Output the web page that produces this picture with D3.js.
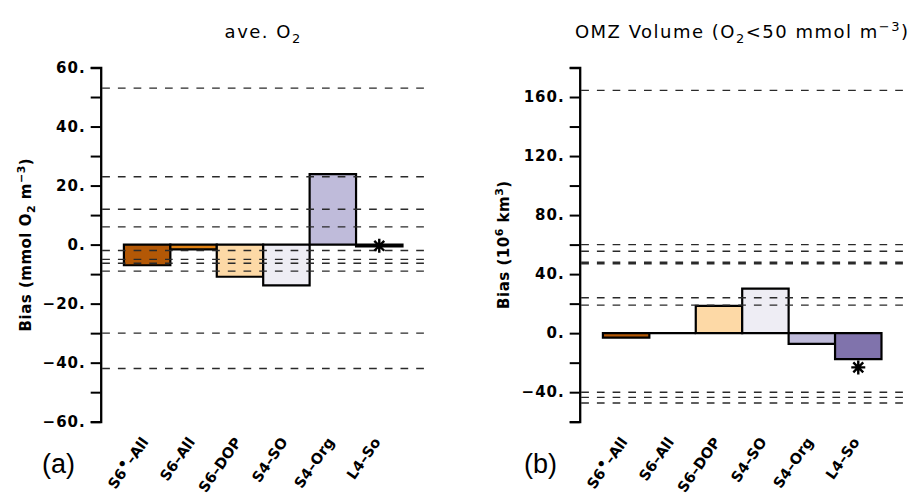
<!DOCTYPE html>
<html>
<head>
<meta charset="utf-8">
<script src="https://cdn.jsdelivr.net/npm/d3@7"></script>
<style>
  html, body { margin: 0; padding: 0; background: #fff; }
  svg { display: block; }
</style>
</head>
<body>
<div id="chart"></div>
<script>
// ---------- data ----------
const categories = ["S6\u2022\u2013All", "S6\u2013All", "S6\u2013DOP", "S4\u2013SO", "S4\u2013Org", "L4\u2013So"];
const barColors = ["#b35806", "#e08214", "#fdd9a6", "#eeedf4", "#bfbbda", "#8073ac"];

// panel (a): ave. O2 bias (mmol O2 m-3)
const o2Bias = [-7.0, -1.6, -10.9, -13.8, 23.9, -0.6];
const o2Star = [null, null, null, null, null, -0.4];
const o2RefLines = [53, 23, 12, 6, -2, -5, -6.3, -9, -30, -42];
const o2Ticks = [-60, -50, -40, -30, -20, -10, 0, 10, 20, 30, 40, 50, 60];
const o2TickLabels = [-60, -40, -20, 0, 20, 40, 60];

// panel (b): OMZ volume bias (10^6 km3)
const omzBias = [-3.0, 0.0, 18.5, 30.2, -7.2, -17.6];
const omzStar = [null, null, null, null, null, -23.2];
const omzRefLines = [164.5, 60, 55.5, 48, 47, 24, 19, -40, -43.5, -47.3];
const omzTicks = [-60, -40, -20, 0, 20, 40, 60, 80, 100, 120, 140, 160, 180];
const omzTickLabels = [-40, 0, 40, 80, 120, 160];

// ---------- drawing ----------
const W = 921, H = 498;
const svg = d3.select("#chart").append("svg").attr("width", W).attr("height", H);
const FONT = "DejaVu Sans, sans-serif";

function panel(opt) {
  const g = svg.append("g");
  const x = d3.scaleLinear().domain([0, categories.length + 1]).range([opt.x0, opt.x0 + 325]);
  const y = d3.scaleLinear().domain(opt.domain).range([421.7, 67.5]);

  // bars (paths so that zero-height bars still draw their outline)
  g.selectAll("path.bar").data(opt.values).enter().append("path")
    .attr("class", "bar")
    .attr("d", (d, i) => {
      const x0 = x(i + 0.5), w = x(1) - x(0);
      const yTop = y(Math.max(0, d)), h = Math.abs(y(d) - y(0));
      return `M${x0},${yTop}h${w}v${h}h${-w}Z`;
    })
    .attr("fill", (d, i) => barColors[i])
    .attr("stroke", "#000")
    .attr("stroke-width", 2.2)
    .attr("stroke-linejoin", "miter");

  // dashed reference lines
  g.selectAll("line.ref").data(opt.refs).enter().append("line")
    .attr("class", "ref")
    .attr("x1", x(0) + 1.5).attr("x2", x(categories.length + 1))
    .attr("y1", d => y(d)).attr("y2", d => y(d))
    .attr("stroke", "#2a2a2a")
    .attr("stroke-width", 1.4)
    .attr("stroke-dasharray", "7.7,8");

  // asterisks
  const r = 7;
  const stars = opt.stars.map((v, i) => ({ v, i })).filter(d => d.v !== null);
  g.selectAll("path.star").data(stars).enter().append("path")
    .attr("class", "star")
    .attr("transform", d => `translate(${x(d.i + 1)},${y(d.v)})`)
    .attr("d", () => {
      const a = r * Math.SQRT1_2;
      return `M0,${-r}V${r}M${-r},0H${r}M${-a},${-a}L${a},${a}M${-a},${a}L${a},${-a}`;
    })
    .attr("stroke", "#000").attr("stroke-width", 2.4).attr("fill", "none");

  // y axis
  const axis = d3.axisLeft(y)
    .tickValues(opt.ticks)
    .tickSize(10).tickSizeOuter(10).tickPadding(5)
    .tickFormat(d => opt.labels.includes(d) ? (d < 0 ? "\u2212" + Math.abs(d) : d) + "." : "");
  const ag = g.append("g").attr("transform", `translate(${x(0)},0)`).call(axis);
  ag.select(".domain").attr("stroke", "#000").attr("stroke-width", 2.3);
  ag.selectAll(".tick line").attr("stroke", "#000").attr("stroke-width", 2);
  ag.selectAll(".tick text").attr("font-size", 15).attr("fill", "#000")
    .attr("letter-spacing", "1px").attr("font-family", FONT).attr("font-weight", "bold");

  // y axis title
  const yt = g.append("text")
    .attr("transform", `translate(${opt.ytx},${244.6}) rotate(-90)`)
    .attr("text-anchor", "middle")
    .attr("font-family", FONT).attr("font-size", 15).attr("font-weight", "bold")
    .attr("letter-spacing", "0.5px");
  opt.ytitle(yt);

  // title
  const t = g.append("text")
    .attr("x", x(0) + 162.5).attr("y", 38)
    .attr("text-anchor", "middle")
    .attr("font-family", FONT).attr("font-size", 18)
    .attr("letter-spacing", "1.5px");
  opt.title(t);

  // category labels
  g.selectAll("text.cat").data(categories).enter().append("text")
    .attr("class", "cat")
    .attr("transform", (d, i) => `translate(${x(i + 1) + 2},${442}) rotate(-55)`)
    .attr("text-anchor", "end")
    .attr("font-family", FONT).attr("font-size", 14.5).attr("font-weight", "bold")
    .each(function (d) {
      const el = d3.select(this);
      if (d.includes("\u2022")) {
        const [a, b] = d.split("\u2022");
        el.append("tspan").text(a);
        el.append("tspan").attr("dy", -4).attr("font-size", 15).text("\u2022");
        el.append("tspan").attr("dy", 4).text(b);
      } else {
        el.text(d);
      }
    });

  // panel letter
  g.append("text")
    .attr("x", opt.letterX).attr("y", 473)
    .attr("font-family", "Liberation Sans, Arial, sans-serif").attr("font-size", 27)
    .text(opt.letter);
}

panel({
  x0: 100.7, domain: [-60, 60], values: o2Bias, stars: o2Star, refs: o2RefLines,
  ticks: o2Ticks, labels: o2TickLabels, ytx: 31, letter: "(a)", letterX: 42,
  ytitle: t => {
    t.append("tspan").text("Bias (mmol O");
    t.append("tspan").attr("dy", 4).attr("font-size", 11).text("2");
    t.append("tspan").attr("dy", -4).text(" m");
    t.append("tspan").attr("dy", -6).attr("font-size", 11).text("\u22123");
    t.append("tspan").attr("dy", 6).text(")");
  },
  title: t => {
    t.append("tspan").text("ave.  O");
    t.append("tspan").attr("dy", 5).attr("font-size", 13).text("2");
  }
});

panel({
  x0: 579.7, domain: [-60, 180], values: omzBias, stars: omzStar, refs: omzRefLines,
  ticks: omzTicks, labels: omzTickLabels, ytx: 509, letter: "(b)", letterX: 524,
  ytitle: t => {
    t.append("tspan").text("Bias (10");
    t.append("tspan").attr("dy", -6).attr("font-size", 11).text("6");
    t.append("tspan").attr("dy", 6).text(" km");
    t.append("tspan").attr("dy", -6).attr("font-size", 11).text("3");
    t.append("tspan").attr("dy", 6).text(")");
  },
  title: t => {
    t.append("tspan").text("OMZ Volume (O");
    t.append("tspan").attr("dy", 5).attr("font-size", 13).text("2");
    t.append("tspan").attr("dy", -5).text("<50 mmol m");
    t.append("tspan").attr("dy", -7).attr("font-size", 13).text("\u22123");
    t.append("tspan").attr("dy", 7).text(")");
  }
});
</script>
</body>
</html>
